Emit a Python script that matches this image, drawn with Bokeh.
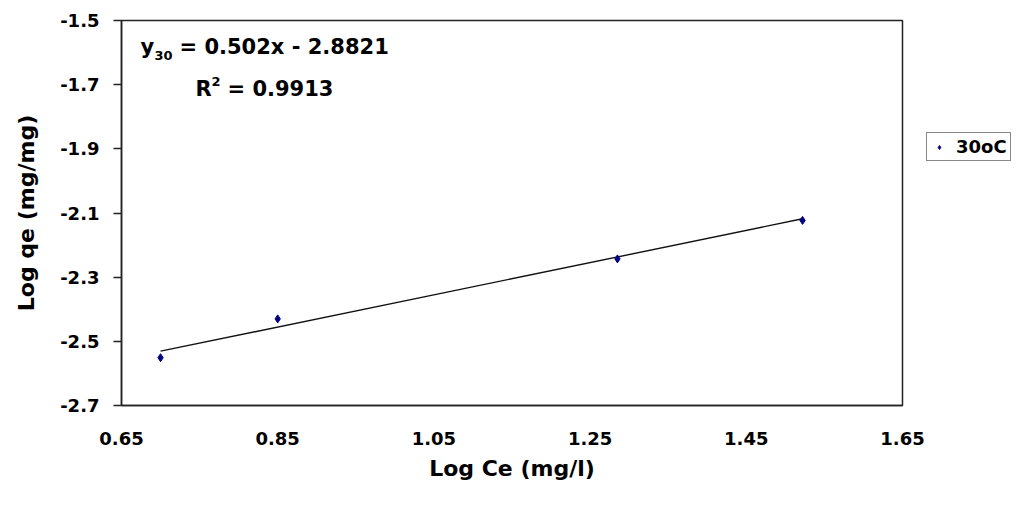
from bokeh.plotting import figure
from bokeh.models import Range1d, FixedTicker, Label, Legend, LegendItem
from bokeh.embed import file_html
from bokeh.resources import INLINE

# ---- data ----
x_vals = [0.70, 0.85, 1.285, 1.522]
y_vals = [-2.551, -2.430, -2.243, -2.123]
series_name = "30oC"
slope = 0.502
intercept = -2.8821
r_squared = "0.9913"

x_ticks = [0.65, 0.85, 1.05, 1.25, 1.45, 1.65]
x_tick_labels = ["0.65", "0.85", "1.05", "1.25", "1.45", "1.65"]
y_ticks = [-2.7, -2.5, -2.3, -2.1, -1.9, -1.7, -1.5]
y_tick_labels = ["-2.7", "-2.5", "-2.3", "-2.1", "-1.9", "-1.7", "-1.5"]

FONT = "DejaVu Sans"

p = figure(width=1016, height=500, output_backend="svg", toolbar_location=None,
           x_range=Range1d(0.65, 1.65), y_range=Range1d(-2.7, -1.5),
           min_border_left=121, min_border_right=114, min_border_top=20, min_border_bottom=95)
p.frame_width = 781
p.frame_height = 385
p.background_fill_color = "white"
p.border_fill_color = "white"
p.outline_line_color = "#222222"
p.outline_line_width = 1.5
p.xgrid.visible = False
p.ygrid.visible = False

# axes
p.xaxis.ticker = FixedTicker(ticks=x_ticks)
p.xaxis.major_label_overrides = dict(zip(x_ticks, x_tick_labels))
p.yaxis.ticker = FixedTicker(ticks=y_ticks)
p.yaxis.major_label_overrides = dict(zip(y_ticks, y_tick_labels))
for ax in (p.xaxis, p.yaxis):
    ax.axis_line_color = "#222222"
    ax.axis_line_width = 1.5
    ax.major_tick_line_color = "#222222"
    ax.major_tick_line_width = 1.5
    ax.minor_tick_line_color = None
    ax.major_label_text_font = FONT
    ax.major_label_text_font_style = "bold"
    ax.major_label_text_font_size = "18px"
    ax.major_label_text_color = "black"
    ax.axis_label_text_font = FONT
    ax.axis_label_text_font_style = "bold"
    ax.axis_label_text_font_size = "22px"
    ax.axis_label_text_color = "black"
p.xaxis.major_tick_out = 0
p.xaxis.major_tick_in = 0
p.xaxis.major_label_standoff = 26
p.xaxis.axis_label = "Log Ce (mg/l)"
p.xaxis.axis_label_standoff = 8
p.yaxis.major_tick_out = 8
p.yaxis.major_tick_in = 0
p.yaxis.major_label_standoff = 14
p.yaxis.axis_label = "Log qe (mg/mg)"
p.yaxis.axis_label_standoff = 18

# trendline from the equation
x0, x1 = min(x_vals), max(x_vals)
p.line([x0, x1], [slope * x0 + intercept, slope * x1 + intercept],
       line_color="#111111", line_width=1.4)

# points
pts = p.scatter(x_vals, y_vals, marker="diamond", size=8, color="#000080")

# equation labels (screen units relative to frame bottom-left)
def lab(text, x, y, size):
    p.add_layout(Label(x=x, y=y, x_units="screen", y_units="screen", text=text,
                       text_font=FONT, text_font_style="bold", text_font_size=size,
                       text_color="black", text_baseline="middle"))

lab("y", 19, 359, "21px")
lab("30", 33, 350, "13px")
lab("= " + f"{slope}" + "x - " + f"{-intercept}", 58, 359, "21px")
lab("R", 74, 317, "21px")
lab("2", 90, 324, "13px")
lab("= " + r_squared, 106, 317, "21px")

legend = Legend(items=[LegendItem(label=series_name, renderers=[pts])],
                location=(24, 244), padding=3, margin=0, spacing=0,
                glyph_width=18, glyph_height=10, label_standoff=8, label_height=14,
                label_text_font=FONT, label_text_font_style="bold",
                label_text_font_size="18px", label_text_color="black",
                border_line_color="#111111", border_line_width=1.5,
                background_fill_color="white")
p.add_layout(legend, "right")

open("out.html", "w").write(file_html(p, INLINE))
